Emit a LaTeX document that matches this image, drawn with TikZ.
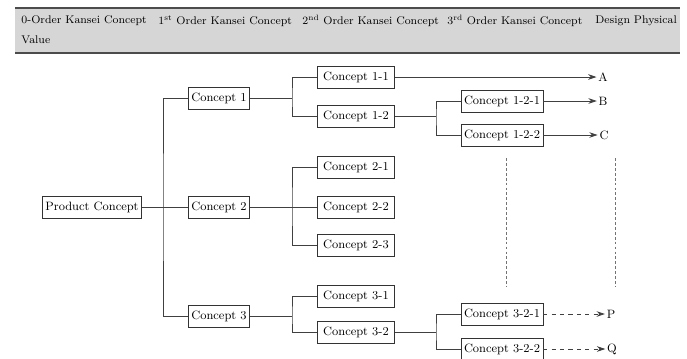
\documentclass[tikz,border=0pt]{standalone}
\usepackage{amsmath}
\usepackage{tikz}
\usetikzlibrary{positioning, arrows.meta}
\tikzset{
>={Stealth[length=6pt,width=4pt]}, % filled arrow heads
concept/.style={draw=black!80, thin, rectangle, inner sep=2pt, minimum height=0.56cm, font=\fontsize{8.6}{10}\selectfont}, % boxes of the tree
head/.style={anchor=west, inner sep=0pt, font=\fontsize{7.9}{10}\selectfont}, % column titles
leaf/.style={inner sep=1pt, font=\fontsize{8.6}{10}\selectfont}, % design values
}

\begin{document}
\begin{tikzpicture}[x=0.025cm, y=-0.025cm, line width=0.6pt, draw=black!75]
    \useasboundingbox (0,0) rectangle (687,358);
    % title band
    \fill[black!16] (15,8) rectangle (680,53);
    \draw[line width=1.1pt, black!70] (15,8) -- (680,8) (15,53) -- (680,53);
    \node[head] at (21,21) (h0) {0-Order Kansei Concept};
    \node[head] at (158,21) (h1) {1\textsuperscript{st} Order Kansei Concept};
    \node[head] at (302,21) (h2) {2\textsuperscript{nd} Order Kansei Concept};
    \node[head] at (447,21) (h3) {3\textsuperscript{rd} Order Kansei Concept};
    \node[head] at (595,21) (h4) {Design Physical};
    \node[head] at (21,40) (h5) {Value};
    % tree
    \node[concept, minimum width=2.4cm] at (92,207) (pc) {Product Concept};
    \node[concept, minimum width=1.525cm] at (219,98) (c1) {Concept 1};
    \node[concept, minimum width=1.525cm] at (219,207) (c2) {Concept 2};
    \node[concept, minimum width=1.525cm] at (219,316) (c3) {Concept 3};
    \node[concept, minimum width=1.925cm] at (356,77) (c11) {Concept 1-1};
    \node[concept, minimum width=1.925cm] at (356,116) (c12) {Concept 1-2};
    \node[concept, minimum width=1.925cm] at (356,167) (c21) {Concept 2-1};
    \node[concept, minimum width=1.925cm] at (356,207) (c22) {Concept 2-2};
    \node[concept, minimum width=1.925cm] at (356,245) (c23) {Concept 2-3};
    \node[concept, minimum width=1.925cm] at (356,296) (c31) {Concept 3-1};
    \node[concept, minimum width=1.925cm] at (356,332) (c32) {Concept 3-2};
    \node[concept, minimum width=1.975cm] at (502,101) (c121) {Concept 1-2-1};
    \node[concept, minimum width=1.975cm] at (502,135) (c122) {Concept 1-2-2};
    \node[concept, minimum width=1.975cm] at (502,314) (c321) {Concept 3-2-1};
    \node[concept, minimum width=1.975cm] at (502,349) (c322) {Concept 3-2-2};
    \node[leaf] at (603,77) (vA) {A};
    \node[leaf] at (603,101) (vB) {B};
    \node[leaf] at (604,135) (vC) {C};
    \node[leaf] at (611,314) (vP) {P};
    \node[leaf] at (612,349) (vQ) {Q};
    \coordinate (j0) at (163,207);
    \coordinate (j1) at (292,98);
    \coordinate (j2) at (292,207);
    \coordinate (j3) at (292,316);
    \coordinate (j12) at (436,116);
    \coordinate (j32) at (436,332);
    \coordinate (d1) at (506,158);
    \coordinate (d2) at (506,287);
    \coordinate (d3) at (615,158);
    \coordinate (d4) at (615,287);
    \draw
    (pc) -- (c2)
    (c1) -| (j0) |- (c3)
    (c1) -- (j1) (c11) -| (j1) |- (c12)
    (c2) -- (j2) (c21) -| (j2) |- (c23) (j2) -- (c22)
    (c3) -- (j3) (c31) -| (j3) |- (c32)
    (c12) -- (j12) (c121) -| (j12) |- (c122)
    (c32) -- (j32) (c321) -| (j32) |- (c322)
    ;
    \draw[->] (c11) -- (vA);
    \draw[->] (c121) -- (vB);
    \draw[->] (c122) -- (vC);
    \draw[->, dashed] (c321) -- (vP);
    \draw[->, dashed] (c322) -- (vQ);
    \draw[line width=0.5pt, black!55, dash pattern=on 2pt off 1.5pt] (d1) -- (d2) (d3) -- (d4);
\end{tikzpicture}
\end{document}
